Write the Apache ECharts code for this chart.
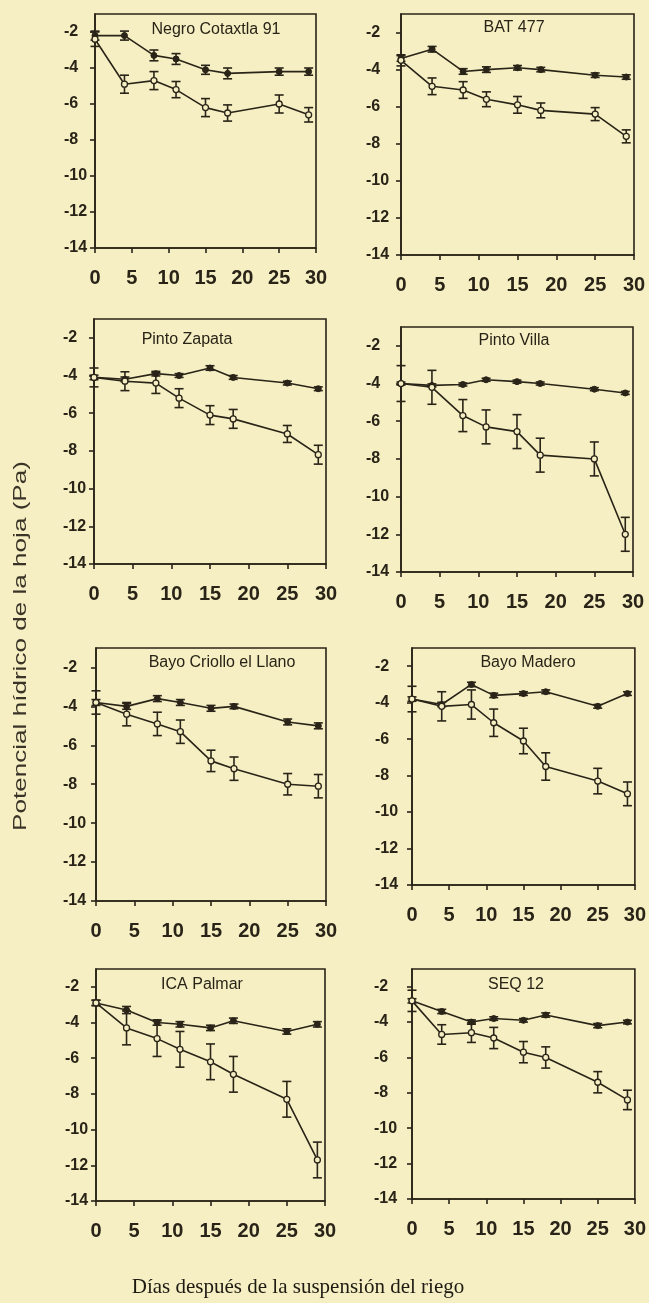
<!DOCTYPE html>
<html>
<head>
<meta charset="utf-8">
<script src="https://cdn.jsdelivr.net/npm/echarts@6/dist/echarts.min.js"></script>
<style>
html,body{margin:0;padding:0;background:#f5efc3;}
#c{width:649px;height:1303px;}
</style>
</head>
<body>
<div id="c"></div>
<script>
// ---- data (leaf water potential, Pa) ----
const dias = [0, 4, 8, 11, 15, 18, 25, 29];
const xTicks = [0, 5, 10, 15, 20, 25, 30];
const yTicks = [-2, -4, -6, -8, -10, -12, -14];

const variedades = ['Negro Cotaxtla 91', 'BAT 477', 'Pinto Zapata', 'Pinto Villa',
                    'Bayo Criollo el Llano', 'Bayo Madero', 'ICA Palmar', 'SEQ 12'];

// filled symbols (riego) and open symbols (suspensión), with error bars
const nc91Riego     = [-2.2, -2.2, -3.3, -3.5, -4.1, -4.3, -4.2, -4.2];
const nc91RiegoEE   = [0.25, 0.25, 0.3, 0.3, 0.25, 0.3, 0.2, 0.2];
const nc91Susp      = [-2.4, -4.9, -4.7, -5.2, -6.2, -6.5, -6.0, -6.6];
const nc91SuspEE    = [0.4, 0.5, 0.5, 0.45, 0.5, 0.45, 0.5, 0.4];

const bat477Riego   = [-3.4, -2.9, -4.1, -4.0, -3.9, -4.0, -4.3, -4.4];
const bat477RiegoEE = [0.15, 0.15, 0.15, 0.15, 0.12, 0.12, 0.12, 0.12];
const bat477Susp    = [-3.5, -4.9, -5.1, -5.6, -5.9, -6.2, -6.4, -7.6];
const bat477SuspEE  = [0.3, 0.45, 0.45, 0.4, 0.45, 0.4, 0.35, 0.35];

const pzRiego       = [-4.1, -4.2, -3.9, -4.0, -3.6, -4.1, -4.4, -4.7];
const pzRiegoEE     = [0.12, 0.12, 0.12, 0.1, 0.12, 0.1, 0.1, 0.1];
const pzSusp        = [-4.1, -4.3, -4.4, -5.2, -6.1, -6.3, -7.1, -8.2];
const pzSuspEE      = [0.5, 0.5, 0.55, 0.5, 0.5, 0.5, 0.45, 0.5];

const pvRiego       = [-4.0, -4.1, -4.05, -3.8, -3.9, -4.0, -4.3, -4.5];
const pvRiegoEE     = [0.08, 0.08, 0.08, 0.08, 0.08, 0.08, 0.08, 0.08];
const pvSusp        = [-4.0, -4.2, -5.7, -6.3, -6.55, -7.8, -8.0, -12.0];
const pvSuspEE      = [0.95, 0.9, 0.85, 0.9, 0.9, 0.9, 0.9, 0.9];

const bclRiego      = [-3.8, -4.0, -3.6, -3.8, -4.1, -4.0, -4.8, -5.0];
const bclRiegoEE    = [0.15, 0.15, 0.15, 0.15, 0.15, 0.12, 0.15, 0.15];
const bclSusp       = [-3.8, -4.4, -4.9, -5.3, -6.8, -7.2, -8.0, -8.1];
const bclSuspEE     = [0.6, 0.6, 0.6, 0.6, 0.55, 0.6, 0.55, 0.6];

const bmRiego       = [-3.8, -4.1, -3.0, -3.6, -3.5, -3.4, -4.2, -3.5];
const bmRiegoEE     = [0.12, 0.12, 0.12, 0.12, 0.1, 0.1, 0.1, 0.1];
const bmSusp        = [-3.8, -4.2, -4.1, -5.1, -6.1, -7.5, -8.3, -9.0];
const bmSuspEE      = [0.7, 0.8, 0.8, 0.75, 0.7, 0.75, 0.7, 0.65];

const icaRiego      = [-2.9, -3.3, -4.0, -4.1, -4.3, -3.9, -4.5, -4.1];
const icaRiegoEE    = [0.15, 0.2, 0.15, 0.15, 0.15, 0.15, 0.15, 0.15];
const icaSusp       = [-2.9, -4.3, -4.9, -5.5, -6.2, -6.9, -8.3, -11.7];
const icaSuspEE     = [0.15, 0.95, 1.0, 1.0, 1.0, 1.0, 1.0, 1.0];

const seqRiego      = [-2.8, -3.4, -4.0, -3.8, -3.9, -3.6, -4.2, -4.0];
const seqRiegoEE    = [0.12, 0.12, 0.12, 0.1, 0.1, 0.12, 0.12, 0.1];
const seqSusp       = [-2.8, -4.7, -4.6, -4.9, -5.7, -6.0, -7.4, -8.4];
const seqSuspEE     = [0.6, 0.55, 0.55, 0.6, 0.6, 0.6, 0.6, 0.55];

const panelData = [
  [nc91Riego, nc91RiegoEE, nc91Susp, nc91SuspEE],
  [bat477Riego, bat477RiegoEE, bat477Susp, bat477SuspEE],
  [pzRiego, pzRiegoEE, pzSusp, pzSuspEE],
  [pvRiego, pvRiegoEE, pvSusp, pvSuspEE],
  [bclRiego, bclRiegoEE, bclSusp, bclSuspEE],
  [bmRiego, bmRiegoEE, bmSusp, bmSuspEE],
  [icaRiego, icaRiegoEE, icaSusp, icaSuspEE],
  [seqRiego, seqRiegoEE, seqSusp, seqSuspEE]
];

// ---- layout ----
const grids = [
  {left: 95,  top: 14,  width: 221, height: 234},
  {left: 401, top: 14,  width: 233, height: 241},
  {left: 94,  top: 319, width: 232, height: 245},
  {left: 401, top: 327, width: 232, height: 245},
  {left: 96,  top: 648, width: 230, height: 253},
  {left: 412, top: 648, width: 224, height: 237},
  {left: 96,  top: 969, width: 229, height: 232},
  {left: 412, top: 969, width: 226, height: 230}
];
const yLabelMargin = [31, 35, 31, 35, 33, 37, 31, 38];
const titlePos = [[216, 30], [514, 28], [187, 340], [514, 341], [222, 663], [528, 663], [202, 985], [516, 985]];

const INK = '#2a2418';
const BG = '#f5efc3';
const SANS = "'Liberation Sans Narrow', 'Liberation Sans', Arial, sans-serif";

const option = {
  backgroundColor: BG,
  animation: false,
  grid: [], xAxis: [], yAxis: [], series: [],
  graphic: []
};

function errItem(params, api) {
  const x = api.value(0);
  const lo = api.coord([x, api.value(1)]);
  const hi = api.coord([x, api.value(2)]);
  const w = 4.5;
  const st = {stroke: INK, lineWidth: 1.6};
  return {
    type: 'group',
    children: [
      {type: 'line', shape: {x1: lo[0], y1: lo[1], x2: hi[0], y2: hi[1]}, style: st},
      {type: 'line', shape: {x1: lo[0] - w, y1: lo[1], x2: lo[0] + w, y2: lo[1]}, style: st},
      {type: 'line', shape: {x1: hi[0] - w, y1: hi[1], x2: hi[0] + w, y2: hi[1]}, style: st}
    ]
  };
}

grids.forEach((g, i) => {
  option.grid.push(Object.assign({show: true, borderColor: INK, borderWidth: 1.6, backgroundColor: 'transparent'}, g));
  option.xAxis.push({
    type: 'value', gridIndex: i, min: xTicks[0], max: xTicks[xTicks.length - 1], interval: 5,
    axisLine: {lineStyle: {color: INK, width: 1.6}},
    axisTick: {length: 5, lineStyle: {color: INK, width: 1.6}},
    splitLine: {show: false},
    axisLabel: {color: INK, fontFamily: SANS, fontSize: 20, fontWeight: 'bold', margin: 20}
  });
  option.yAxis.push({
    type: 'value', gridIndex: i, min: yTicks[yTicks.length - 1], max: -1, interval: 2,
    axisLine: {lineStyle: {color: INK, width: 1.6}},
    axisTick: {length: 5, lineStyle: {color: INK, width: 1.6}},
    splitLine: {show: false},
    axisLabel: {color: INK, fontFamily: SANS, fontSize: 16, fontWeight: 'bold',
                margin: yLabelMargin[i], align: 'left',
                showMaxLabel: false,
                formatter: v => (yTicks.indexOf(v) >= 0 ? String(v) : '')}
  });
  const [r, re, s, se] = panelData[i];
  option.series.push({
    type: 'custom', xAxisIndex: i, yAxisIndex: i, renderItem: errItem, z: 3,
    data: dias.map((d, k) => [d, s[k] - se[k], s[k] + se[k]])
  });
  option.series.push({
    type: 'custom', xAxisIndex: i, yAxisIndex: i, renderItem: errItem, z: 3,
    data: dias.map((d, k) => [d, r[k] - re[k], r[k] + re[k]])
  });
  option.series.push({
    type: 'line', xAxisIndex: i, yAxisIndex: i, z: 4,
    data: dias.map((d, k) => [d, r[k]]),
    symbol: 'circle', symbolSize: 6,
    lineStyle: {color: INK, width: 1.6},
    itemStyle: {color: INK, borderColor: INK, borderWidth: 1}
  });
  option.series.push({
    type: 'line', xAxisIndex: i, yAxisIndex: i, z: 5,
    data: dias.map((d, k) => [d, s[k]]),
    symbol: 'circle', symbolSize: 6,
    lineStyle: {color: INK, width: 1.6},
    itemStyle: {color: BG, borderColor: INK, borderWidth: 1.3}
  });
  option.graphic.push({
    type: 'text', x: titlePos[i][0], y: titlePos[i][1], z: 10,
    style: {text: variedades[i], fill: INK, font: "16px " + SANS, textAlign: 'center', textVerticalAlign: 'middle'}
  });
});

option.graphic.push({
  type: 'text', x: 21, y: 646, rotation: Math.PI / 2, scaleX: 1.45, z: 10,
  style: {text: 'Potencial hídrico de la hoja (Pa)', fill: '#3a3428',
          font: "18px 'Liberation Sans', Arial, sans-serif", textAlign: 'center', textVerticalAlign: 'middle'}
});
option.graphic.push({
  type: 'text', x: 298, y: 1287, z: 10,
  style: {text: 'Días después de la suspensión del riego', fill: '#1e1a12',
          font: "21px 'Liberation Serif', 'Times New Roman', serif", textAlign: 'center', textVerticalAlign: 'middle'}
});

const chart = echarts.init(document.getElementById('c'), null, {renderer: 'canvas'});
chart.setOption(option);
</script>
</body>
</html>
